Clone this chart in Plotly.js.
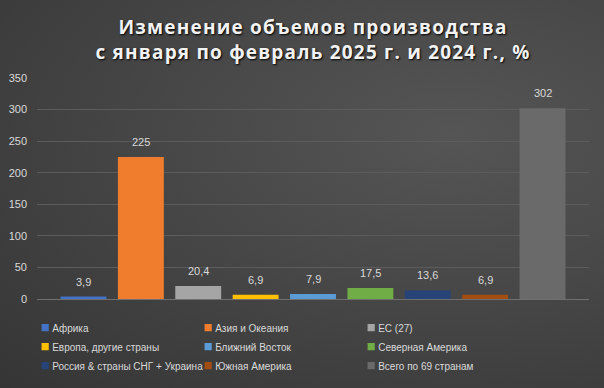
<!DOCTYPE html>
<html><head><meta charset="utf-8">
<script src="https://cdn.plot.ly/plotly-3.0.1.min.js"></script>
<style>
html,body{margin:0;padding:0;}
body{width:604px;height:388px;background:radial-gradient(ellipse at 75% 35%, #555555 0%, #474747 45%, #353535 100%);}
#chart{width:604px;height:388px;}
.gtitle{letter-spacing:1.2px;}
.legend .legendpoints path{transform:translate(33px,0px) scale(0.6);}
</style>
</head><body>
<div id="chart"></div>
<script>
const categories = ["Африка","Азия и Океания","ЕС (27)","Европа, другие страны","Ближний Восток","Северная Америка","Россия & страны СНГ + Украина","Южная Америка","Всего по 69 странам"];
const values = [3.9, 225, 20.4, 6.9, 7.9, 17.5, 13.6, 6.9, 302];
const colors = ["#4472c4","#f07d2e","#a5a5a5","#ffc000","#5b9bd5","#70ad47","#264478","#a34d12","#6a6a6a"];
const yTicks = [0,50,100,150,200,250,300,350];

const fmt = v => String(v).replace('.', ',');
const font = "Liberation Sans, Arial, sans-serif";

const traces = categories.map((c,i)=>({
  type:'bar', name:c, x:[i], y:[values[i]],
  marker:{color:colors[i], line:{width:0}},
  width:0.8, hoverinfo:'skip', showlegend:true
}));

const annotations = categories.map((c,i)=>({
  x:i, y:values[i], xref:'x', yref:'y', text:fmt(values[i]),
  showarrow:false, yanchor:'bottom', yshift:7,
  font:{family:font, size:11, color:'#d9d9d9'}
}));

const layout = {
  width:604, height:388,
  paper_bgcolor:'rgba(0,0,0,0)', plot_bgcolor:'rgba(0,0,0,0)',
  margin:{l:37, r:15, t:78, b:89, autoexpand:false},
  title:{
    text:'Изменение объемов производства<br>с января по февраль 2025 г. и 2024 г., %',
    font:{family:'Open Sans, sans-serif', size:19, color:'#f2f2f2', weight:'bold', shadow:'1px 1px 2px #000'},
    x:0.5, xanchor:'center', xref:'paper', y:1-34/388, yanchor:'middle', yref:'container'
  },
  barmode:'overlay',
  xaxis:{range:[-0.81, 8.81], showticklabels:false, showgrid:false, zeroline:false, ticks:'', fixedrange:true},
  yaxis:{range:[0,350], tickvals:yTicks, ticktext:yTicks.map(String), showgrid:true, gridcolor:'#5c5c5c', gridwidth:1,
         zeroline:true, zerolinecolor:'#707070', zerolinewidth:1, ticks:'', ticklabelstandoff:9,
         tickfont:{family:font, size:11, color:'#d9d9d9'}},
  showlegend:true,
  legend:{orientation:'h', x:-0.045, xanchor:'left', y:-0.064, yanchor:'top',
          entrywidth:118, entrywidthmode:'pixels', traceorder:'normal',
          font:{family:font, size:10, color:'#d9d9d9'}, bgcolor:'rgba(0,0,0,0)', itemwidth:30},
  annotations:annotations
};

Plotly.newPlot('chart', traces, layout, {staticPlot:true, displayModeBar:false});
</script>
</body></html>
